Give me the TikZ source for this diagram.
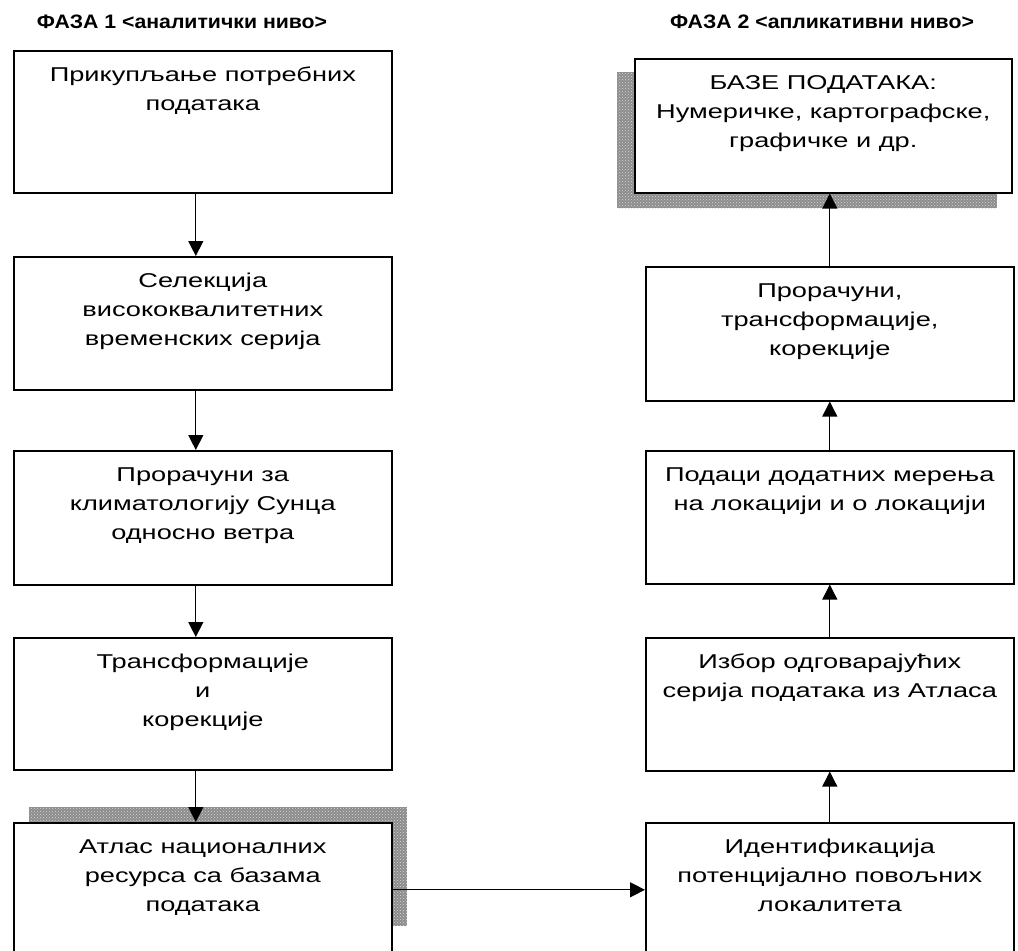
\documentclass[tikz,border=0pt]{standalone}
\usepackage{fontspec}
\setmainfont{Liberation Sans}
\newfontfamily\stagefont[FakeStretch=1.36]{Liberation Sans}
\newfontfamily\phasefont[FakeStretch=1.09]{Liberation Sans}
\usetikzlibrary{arrows.meta,patterns}
\newcommand{\stagetext}[2]{\parbox[c][#1][t]{360pt}{\centering\stagefont\fontsize{20pt}{29pt}\selectfont\rule{0pt}{31pt}#2}}
\tikzset{
 stage/.style={draw, line width=1.6pt, fill=white, inner sep=0pt, anchor=north west, minimum width=#1},
 link/.style={line width=1.3pt, -{Triangle[width=15pt,length=15pt]}},
 shadowbox/.style={fill=black!45, postaction={pattern=crosshatch dots, pattern color=white!85!black}},
 phase/.style={font=\phasefont\bfseries\fontsize{19.5pt}{22pt}\selectfont}
}
\begin{document}
\begin{tikzpicture}[x=1pt,y=-1pt]
 \clip (0,0) rectangle (1018,951);
 \node[phase] (phase1) at (182,22) {ФАЗА 1 <аналитички ниво>};
 \node[phase] (phase2) at (822,22) {ФАЗА 2 <апликативни ниво>};
 % shadows
 \fill[shadowbox] (29,807) rectangle (407,926);
 \fill[shadowbox] (617,72) rectangle (997,208);
 % phase 1
 \node[stage=378pt] (collect) at (13,50) {\stagetext{142pt}{Прикупљање потребних\\ података}};
 \node[stage=378pt] (select) at (13,256) {\stagetext{133pt}{Селекција\\ висококвалитетних\\ временских серија}};
 \node[stage=378pt] (climate) at (13,450) {\stagetext{134pt}{Прорачуни за\\ климатологију Сунца\\ односно ветра}};
 \node[stage=378pt] (transform) at (13,637) {\stagetext{132pt}{Трансформације\\ и\\ корекције}};
 \node[stage=378pt] (atlas) at (13,822) {\stagetext{134pt}{Атлас националних\\ ресурса са базама\\ података}};
 % phase 2
 \node[stage=377pt] (base) at (634,58) {\stagetext{134pt}{БАЗЕ ПОДАТАКА:\\ Нумеричке, картографске,\\ графичке и др.}};
 \node[stage=368pt] (calc) at (645,266) {\stagetext{134pt}{Прорачуни,\\ трансформације,\\ корекције}};
 \node[stage=368pt] (measure) at (645,450) {\stagetext{133pt}{Подаци додатних мерења\\ на локацији и о локацији}};
 \node[stage=368pt] (choice) at (645,637) {\stagetext{133pt}{Избор одговарајућих\\ серија података из Атласа}};
 \node[stage=368pt] (ident) at (645,822) {\stagetext{134pt}{Идентификација\\ потенцијално повољних\\ локалитета}};
 % connectors
 \draw[link] ([xshift=-7pt]collect.south) -- ([xshift=-7pt]select.north);
 \draw[link] ([xshift=-7pt]select.south) -- ([xshift=-7pt]climate.north);
 \draw[link] ([xshift=-7pt]climate.south) -- ([xshift=-7pt]transform.north);
 \draw[link] ([xshift=-7pt]transform.south) -- ([xshift=-7pt]atlas.north);
 \draw[link] (atlas.east) -- (ident.west);
 \draw[link] (ident.north) -- (choice.south);
 \draw[link] (choice.north) -- (measure.south);
 \draw[link] (measure.north) -- (calc.south);
 \draw[link] (calc.north) -- (calc.north |- base.south);
\end{tikzpicture}
\end{document}
